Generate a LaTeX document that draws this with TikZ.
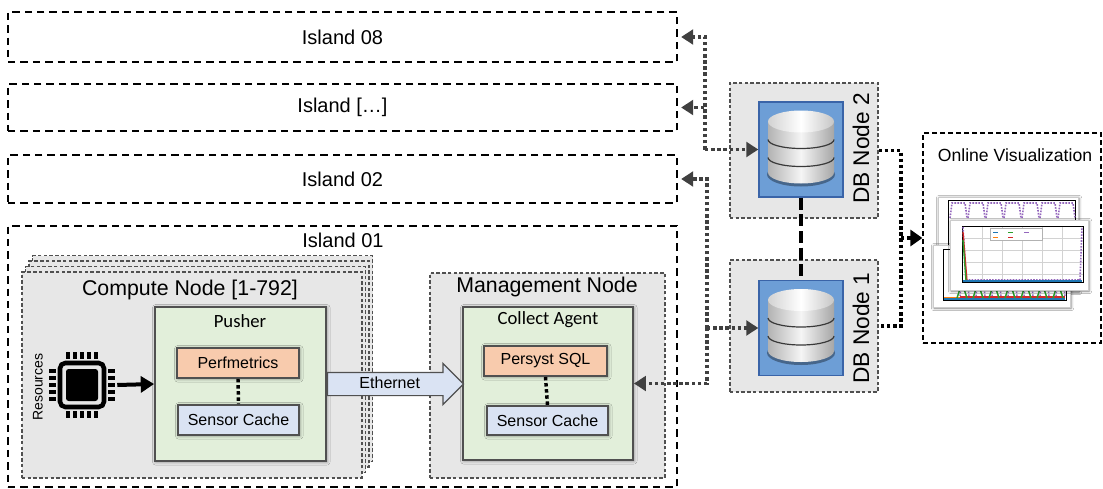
\documentclass[tikz,border=0pt]{standalone}
\usepackage{fontspec}
\setmainfont{Liberation Sans}
\newfontfamily\agentfont{Carlito}
\usetikzlibrary{arrows.meta,shapes.arrows,shadows.blur}

\definecolor{hostgray}{RGB}{231,231,231}
\definecolor{edgegray}{RGB}{80,80,80}
\definecolor{agentgreen}{RGB}{226,239,218}
\definecolor{pluginorange}{RGB}{248,203,173}
\definecolor{cacheblue}{RGB}{218,227,243}
\definecolor{dbblue}{RGB}{109,158,214}
\definecolor{dbedge}{RGB}{58,100,168}
\definecolor{linkgray}{RGB}{64,64,64}
\definecolor{vizpurple}{RGB}{148,103,189}
\definecolor{vizred}{RGB}{214,39,40}
\definecolor{vizgreen}{RGB}{44,160,44}
\definecolor{vizorange}{RGB}{255,127,14}
\definecolor{vizblue}{RGB}{31,119,180}

\begin{document}
\begin{tikzpicture}[
  x=0.75pt, y=-0.75pt,
  every node/.style={inner sep=0pt, font=\fontsize{12}{14}\selectfont},
  px box/.style 2 args={minimum width=#1*0.75pt, minimum height=#2*0.75pt},
  island/.style={draw=black, line width=1.2pt, dash pattern=on 5.5pt off 3.8pt, fill=white, font=\fontsize{15}{18}\selectfont},
  host/.style={draw=edgegray, fill=hostgray, line width=0.8pt, dash pattern=on 2.6pt off 1.7pt},
  hosttitle/.style={font=\fontsize{16}{19}\selectfont},
  soft shadow/.style={blur shadow={shadow xshift=0.6pt, shadow yshift=-0.6pt, shadow blur radius=2.5pt, shadow opacity=45}},
  agent/.style={draw=edgegray, fill=agentgreen, line width=1.4pt, soft shadow},
  agentname/.style={font=\agentfont\fontsize{14}{16}\selectfont},
  plugin/.style={draw=edgegray, fill=pluginorange, line width=1.4pt, soft shadow},
  cache/.style={plugin, fill=cacheblue},
  innerlink/.style={draw=black, line width=2.6pt, dash pattern=on 2.6pt off 2pt},
  ethernet/.style={single arrow, draw=edgegray, fill=cacheblue, line width=0.9pt,
    minimum height=136*0.75pt, single arrow head extend=6.75pt, single arrow head indent=0pt,
    text height=9pt, text depth=2.5pt, inner xsep=2pt, inner ysep=2.5pt},
  link/.style={draw=linkgray, line width=2.6pt, dash pattern=on 2.6pt off 2pt, -{Triangle[length=9pt,width=11pt]}},
  dbicon/.style={draw=dbedge, fill=dbblue, line width=1pt, px box={84}{95}},
  dbname/.style={font=\fontsize{17}{20}\selectfont, rotate=90},
  vizlink/.style={draw=black, line width=2.6pt, dash pattern=on 2.6pt off 2pt},
  plotcard/.style={fill=white, draw=gray!40, line width=0.3pt, blur shadow={shadow xshift=0.8pt, shadow yshift=-0.8pt, shadow blur radius=2pt, shadow opacity=50}}
  ]
\useasboundingbox (0,0) rectangle (1103,489);

% islands
\node[island, px box={669}{50}] (isl08) at (342.5,37) {Island 08};
\node[island, px box={669}{47}] (islx) at (342.5,107.5) {Island […]};
\node[island, px box={669}{48}] (isl02) at (342.5,179) {Island 02};
\node[island, px box={669}{261}] (isl01) at (342.5,356.5) {};
\node[font=\fontsize{15}{18}\selectfont] (isl01title) at (343,240) {Island 01};

% compute nodes (stacked)
\node[host, px box={340}{206}] (compute3) at (202.5,358.5) {};
\node[host, px box={340}{206}] (compute2) at (199,364) {};
\node[host, px box={340}{206}] (compute1) at (195.5,369.5) {};
\node[host, px box={340}{206}] (compute) at (192,375) {};
\node[hosttitle] (computetitle) at (190,290) {Compute Node [1-792]};

\node[agent, px box={171}{154}] (pusher) at (240.5,384) {};
\node[agentname] (pushername) at (240,321) {Pusher};
\node[plugin, px box={122}{30}] (perf) at (238,363) {Perfmetrics};
\node[cache, px box={121}{30}] (pcache) at (238.5,420) {Sensor Cache};
\draw[innerlink] (perf.south) -- (pcache.north);

% cpu chip
\node[px box={70}{70}] (cpu) at (82,385) {};
\begin{scope}[shift={(cpu.center)}]
  \draw[black, line width=3.4pt, rounded corners=4pt] (-22,-22) rectangle (22,22);
  \fill[black, rounded corners=2pt] (-16,-16) rectangle (16,16);
  \foreach \p in {-14,-7,0,7,14} {
    \fill[black] (\p-2,-33) rectangle (\p+2,-26);
    \fill[black] (\p-2,26) rectangle (\p+2,33);
    \fill[black] (-33,\p-2) rectangle (-26,\p+2);
    \fill[black] (26,\p-2) rectangle (33,\p+2);
  }
\end{scope}
\node[rotate=90, font=\fontsize{10.5}{12}\selectfont] (res) at (38,387) {Resources};
\draw[black, line width=3pt, -{Triangle[length=10pt,width=12pt]}] (cpu.east) -- (pusher.west);

% management node
\node[host, px box={235}{205}] (mgmt) at (547.5,375.5) {};
\node[hosttitle] (mgmttitle) at (547,287) {Management Node};
\node[agent, px box={170}{153}] (collect) at (548,383.5) {};
\node[agentname] (collectname) at (548,320) {Collect Agent};
\node[plugin, px box={123}{30}] (persyst) at (545.5,361) {Persyst SQL};
\node[cache, px box={121}{29}] (ccache) at (547.5,420.5) {Sensor Cache};
\draw[innerlink] (persyst.south) -- (ccache.north);

\node[ethernet, anchor=tail] (eth) at (pusher.east) {Ethernet};

% database nodes
\node[host, px box={148}{135}] (db2) at (804,150.5) {};
\node[dbicon] (dbicon2) at (801,149.5) {};
\node[dbname] (db2name) at (861,148.5) {DB Node 2};
\node[host, px box={148}{132}] (db1) at (804,326) {};
\node[dbicon] (dbicon1) at (801,328) {};
\node[dbname] (db1name) at (861,328) {DB Node 1};

\foreach \db in {dbicon1,dbicon2} {
  \begin{scope}[shift={(\db.center)}]
    \fill[black, opacity=0.35] (0,25) ellipse[x radius=34, y radius=12];
    \shade[left color=gray!60, right color=gray!70, middle color=gray!8]
      (-33,-28) -- (-33,23) arc[start angle=180, end angle=0, x radius=33, y radius=11] -- (33,-28) -- cycle;
    \shade[left color=gray!35, right color=gray!45, middle color=white] (0,-28) ellipse[x radius=33, y radius=11];
    \draw[gray!45!black, line width=0.9pt] (-33,-10) arc[start angle=180, end angle=0, x radius=33, y radius=9];
    \draw[gray!45!black, line width=0.9pt] (-33,8) arc[start angle=180, end angle=0, x radius=33, y radius=9];
  \end{scope}
}
\draw[black, line width=3.2pt, dash pattern=on 9pt off 3.5pt] (dbicon2.south) -- (dbicon1.north);

% links between islands and databases
\coordinate (j2) at (705,149.5);
\coordinate (j1) at (707,328);
\draw[link, shorten >=2.5pt] (j2) |- (isl08.east);
\draw[link, shorten >=2.5pt] (j2) |- (islx.east);
\draw[link] (j2) -- (dbicon2.west);
\draw[link, shorten >=2.5pt] (j1) |- (isl02.east);
\draw[link] (j1) |- (collect.east);
\draw[link] (j1) -- (dbicon1.west);

% online visualization
\node[draw=black, line width=0.9pt, dash pattern=on 3.5pt off 2.5pt, fill=white, px box={178}{210}] (viz) at (1012,238) {};
\node[font=\fontsize{13.2}{16}\selectfont] (viztitle) at (1015,155) {Online Visualization};
\coordinate (jv) at (901,238);
\draw[vizlink] (db2.east) -| (jv) |- (db1.east);
\draw[vizlink, -{Triangle[length=9pt,width=12pt]}] (jv) -- (viz.west);

% plot thumbnails
\node[plotcard, px box={140}{94}] (plotA) at (1008,244) {};
\draw[black, line width=0.6pt] (948,200) rectangle (1075,286);
\foreach \k in {0,...,6}
  \draw[vizred, line width=1.1pt] ({953+18*\k},236) -- ++(1,-15) -- ++(10,0) -- ++(1,15);
\foreach \k in {0,...,6}
  \draw[vizgreen, line width=1.1pt] ({955+18*\k},242) -- ++(3,-16) -- ++(2,6) -- ++(3,10);
\foreach \k in {0,...,6}
  \draw[vizpurple, line width=1.2pt, densely dotted] ({950+18*\k},218) -- ++(2,-15) -- ++(13,0) -- ++(2,15);

\node[plotcard, px box={137}{62}] (plotB) at (1001.5,276) {};
\draw[black, line width=0.6pt] (943,249) rectangle (1066,300);
\draw[vizblue, line width=1.2pt] (944,299) -- (1065,299);
\draw[vizorange, line width=1pt] (944,297.5) -- (1065,297.5);
\draw[vizred, line width=1.5pt] (960,296.5) -- (1065,296.5);
\foreach \k in {0,...,6}
  \draw[vizgreen, line width=1.1pt] ({957+16*\k},298) -- ++(3,-9) -- ++(4,0) -- ++(3,9);
\foreach \k in {0,...,6}
  \draw[vizpurple, densely dotted, line width=1.1pt] ({960+16*\k},296) -- ++(2,-22) -- ++(5,0) -- ++(2,22);

\node[plotcard, px box={138}{70}] (plotC) at (1019,255) {};
\draw[gray!35, line width=0.3pt] \foreach \gx in {982,1002,...,1062} {(\gx,226) -- (\gx,282)}
  \foreach \gy in {238,250,...,274} {(962,\gy) -- (1083,\gy)};
\draw[black, line width=0.6pt] (962,226) rectangle (1083,282);
\draw[vizpurple, densely dotted, line width=1.2pt] (963,227) -- (966,280) -- (1080,280) -- (1082,227);
\draw[vizred, line width=1pt] (963,232) -- (967,281);
\draw[vizgreen, line width=1pt] (963,240) -- (966,281);
\draw[vizblue, line width=1.2pt] (963,281) -- (1082,281);
\draw[gray!60, line width=0.3pt, fill=white] (990,228) rectangle (1042,240);
\foreach \c/\lx/\ly in {vizblue/993/233, vizorange/993/238, vizgreen/1008/233, vizred/1008/238, vizpurple/1024/233}
  \fill[\c] (\lx,\ly) rectangle ++(5,-1.5);
\end{tikzpicture}
\end{document}
